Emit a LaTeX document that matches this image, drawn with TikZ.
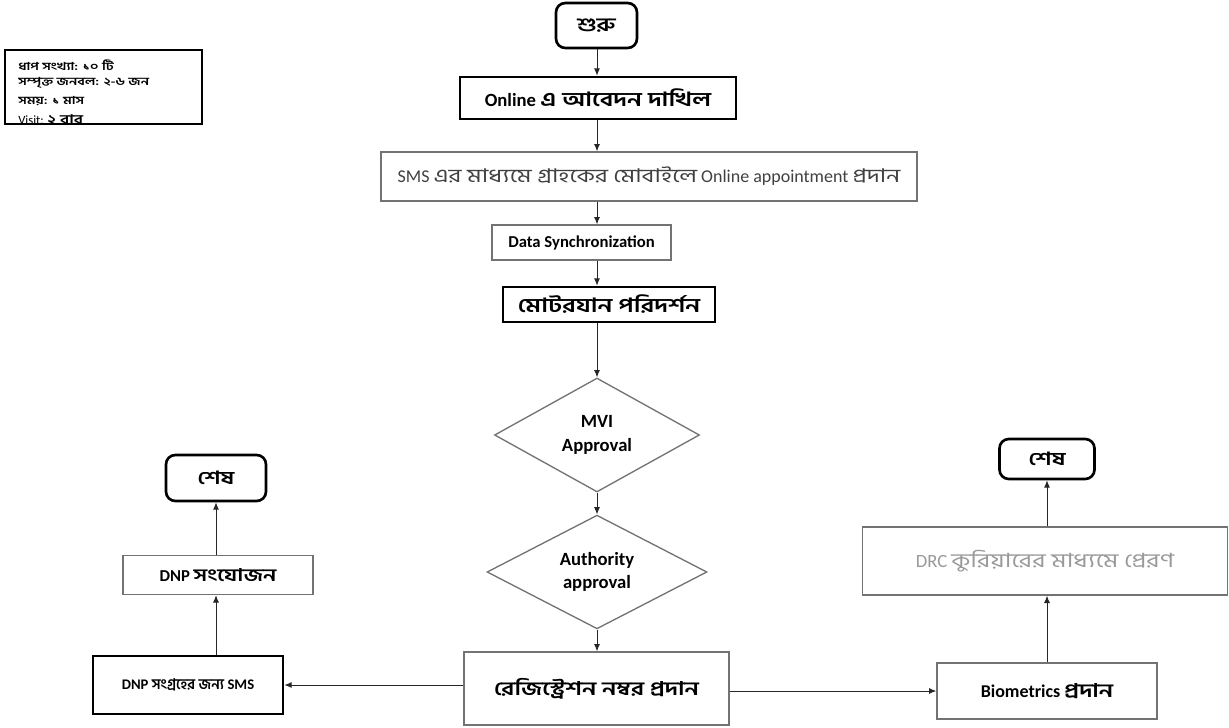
\documentclass[tikz,border=0pt]{standalone}
\usepackage{fontspec}
\setmainfont{Carlito}
\newfontfamily\bn[Script=Bengali,Scale=1.05,FakeStretch=1.3]{Hind Siliguri}
\newfontfamily\bnn[Script=Bengali]{Hind Siliguri}
\usetikzlibrary{shapes.geometric,arrows.meta}
\tikzset{
  sz/.style 2 args={minimum width={#1*0.75pt},minimum height={#2*0.75pt}},
  fsb/.style={font=\bfseries\fontsize{#1}{\fpeval{#1*1.25}}\selectfont},
  fsn/.style={font=\mdseries\fontsize{#1}{\fpeval{#1*1.25}}\selectfont},
  basebox/.style={rectangle, inner sep=0pt, align=center},
  thickbox/.style={basebox, draw=black, line width=2pt},
  thinbox/.style={basebox, draw=black!55, line width=1pt},
  rbox/.style={thickbox, rounded corners=7pt},
  dia/.style={diamond, inner sep=0pt, align=center, draw=black!55, line width=1pt},
  conn/.style={draw=black!85, line width=0.7pt, -{Latex[length=5.5pt,width=4.5pt]}},
  legtxt/.style={anchor=west, inner sep=0pt, fsb=7.8}
}
\begin{document}
\begin{tikzpicture}[x=0.75pt,y=-0.75pt]
\useasboundingbox (0,0) rectangle (1229,728);
\coordinate (spine) at (597,0);

% legend
\node[thickbox, sz={197}{74}] (legend) at (103.5,87) {};
\begin{scope}
\clip (7,52) rectangle (200,122);
\node[legtxt] (l1) at (18,65) {\bn ধাপ সংখ্যা: ১০ টি};
\node[legtxt] (l2) at (18,83) {\bn সম্পৃক্ত জনবল: ২-৬ জন};
\node[legtxt] (l3) at (18,101) {\bn সময়: ১ মাস};
\node[legtxt, fsn=9.5] (l4) at (18,120) {Visit: {\bfseries\bn ২ বার}};
\end{scope}

% main column
\node[rbox, sz={81}{45}, fsb=13.5] (start) at (596.5,25.5) {\bn শুরু};
\node[thickbox, sz={276}{42}, fsb=14] (online) at (598,98) {Online {\bn এ আবেদন দাখিল}};
\node[thinbox, sz={536}{49}, text=black!75, fsn=13.5] (sms) at (649,176.5)
  {SMS {\bn এর মাধ্যমে গ্রাহকের মোবাইলে} Online appointment {\bn প্রদান}};
\node[thinbox, sz={179}{35}, fsb=12.5] (sync) at (581.5,242.5) {Data Synchronization};
\node[thickbox, sz={212}{35}, fsb=14] (inspect) at (609,304.5) {\bn মোটরযান পরিদর্শন};
\node[dia, sz={205}{114}, fsb=14] (mvi) at (597,435) {MVI\\Approval};
\node[dia, sz={220}{100}, fsb=14] (auth) at (597,572) {Authority\\approval};
\node[thinbox, sz={265}{73}, fsb=13.5] (reg) at (596.5,688.5) {\bn রেজিস্ট্রেশন নম্বর প্রদান};

% left branch
\node[thickbox, sz={190}{58}, fsb=11] (dnpsms) at (188,685) {DNP {\bnn সংগ্রহের জন্য} SMS};
\node[thinbox, sz={190}{39}, fsb=12.5] (dnpadd) at (218,575) {DNP {\bn সংযোজন}};
\node[rbox, sz={100}{46}, fsb=13] (end1) at (216,478) {\bn শেষ};

% right branch
\node[thinbox, sz={220}{56}, fsb=13.5] (bio) at (1047,691) {Biometrics {\bn প্রদান}};
\node[thinbox, sz={365}{68}, text=black!40, fsn=14] (drc) at (1045,561)
  {DRC {\bn কুরিয়ারের মাধ্যমে প্রেরণ}};
\node[rbox, sz={95}{40}, fsb=13] (end2) at (1047,459) {\bn শেষ};

% connectors
\draw[conn] (start.south -| spine) -- (online.north -| spine);
\draw[conn] (online.south -| spine) -- (sms.north -| spine);
\draw[conn] (sms.south -| spine) -- (sync.north -| spine);
\draw[conn] (sync.south -| spine) -- (inspect.north -| spine);
\draw[conn] (inspect.south -| spine) -- (mvi.north);
\draw[conn] (mvi.south) -- (auth.north);
\draw[conn] (auth.south) -- (reg.north -| auth.south);
\draw[conn] (reg.west |- dnpsms.east) -- (dnpsms.east);
\draw[conn] (reg.east |- bio.west) -- (bio.west);
\draw[conn] (dnpsms.north -| end1.south) -- (dnpadd.south -| end1.south);
\draw[conn] (dnpadd.north -| end1.south) -- (end1.south);
\draw[conn] (bio.north) -- (drc.south -| bio.north);
\draw[conn] (drc.north -| end2.south) -- (end2.south);
\end{tikzpicture}
\end{document}
